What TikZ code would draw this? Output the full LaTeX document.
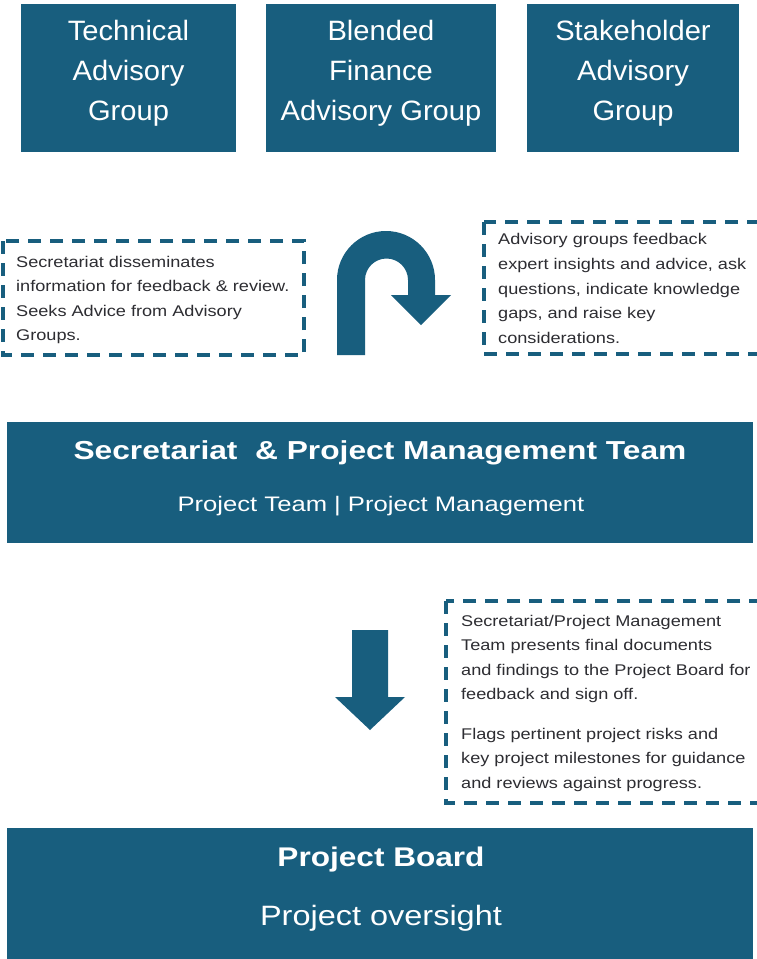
\documentclass[tikz,border=0pt]{standalone}
\usepackage{fontspec}
\setmainfont{Liberation Sans}
\definecolor{teal}{RGB}{24,94,126}
\definecolor{txt}{RGB}{45,45,50}
\tikzset{
  solidbox/.style={fill=teal, draw=none, inner sep=0pt},
  boxtext/.style={text=white, align=center, inner sep=0pt},
  dashbox/.style={draw=teal, line width=3.4pt, dash pattern=on 13pt off 9pt},
  notetext/.style={text=txt, align=left, anchor=north west, inner sep=0pt, font=\fontsize{15.5}{24.3}\selectfont\addfontfeature{FakeStretch=1.17}},
  toptext/.style={boxtext, font=\fontsize{28}{40}\selectfont\addfontfeature{FakeStretch=1.04}},
}
\begin{document}
\begin{tikzpicture}[x=1pt,y=1pt]
\useasboundingbox (0,0) rectangle (757,-959);
\fill[white] (0,0) rectangle (757,-959);
% top boxes
\node[solidbox, minimum width=215pt, minimum height=148pt] (tag) at (128.5,-78) {};
\node[solidbox, minimum width=230pt, minimum height=148pt] (bfag) at (381,-78) {};
\node[solidbox, minimum width=212pt, minimum height=148pt] (sag) at (633,-78) {};
\node[toptext] (tagt) at (128.5,-73) {Technical\\Advisory\\Group};
\node[toptext] (bfagt) at (381,-73) {Blended\\Finance\\Advisory Group};
\node[toptext] (sagt) at (633,-73) {Stakeholder\\Advisory\\Group};
% dashed note boxes
\draw[dashbox] (3,-241) rectangle (304,-355);
\node[notetext] (n1) at (16,-256) {Secretariat disseminates\\information for feedback \& review.\\Seeks Advice from Advisory\\Groups.};
\draw[dashbox] (484,-222) rectangle (765,-354);
\node[notetext, font=\fontsize{15.5}{24.8}\selectfont\addfontfeature{FakeStretch=1.17}] (n2) at (498,-233) {Advisory groups feedback\\expert insights and advice, ask\\questions, indicate knowledge\\gaps, and raise key\\considerations.};
\draw[dashbox] (446,-601) rectangle (765,-803);
\node[notetext] (n3) at (461,-615) {Secretariat/Project Management\\Team presents final documents\\and findings to the Project Board for\\feedback and sign off.};
\node[notetext] (n4) at (461,-728) {Flags pertinent project risks and\\key project milestones for guidance\\and reviews against progress.};
% U-turn arrow
\fill[teal] (337,-355) -- (337,-280) arc[start angle=180, end angle=0, radius=49pt]
  -- (435,-295) -- (451,-295) -- (421,-325) -- (391,-295) -- (408,-295) -- (408,-280)
  arc[start angle=0, end angle=180, radius=21.5pt] -- (365,-355) -- cycle;
% middle box
\node[solidbox, minimum width=746pt, minimum height=121pt] (spmt) at (380,-482.5) {};
\node[boxtext, font=\bfseries\fontsize{26}{30}\selectfont\addfontfeature{FakeStretch=1.22}] (spmtt) at (380,-453) {Secretariat\ \ \& Project Management Team};
\node[boxtext, font=\fontsize{21}{26}\selectfont\addfontfeature{FakeStretch=1.22}] (spmts) at (381,-506) {Project Team | Project Management};
% down arrow
\fill[teal] (352,-630) -- (388,-630) -- (388,-697) -- (405,-697) -- (370,-730) -- (335,-697) -- (352,-697) -- cycle;
% bottom box
\node[solidbox, minimum width=746pt, minimum height=134pt] (pb) at (380,-895) {};
\node[boxtext, font=\bfseries\fontsize{27}{30}\selectfont\addfontfeature{FakeStretch=1.17}] (pbt) at (381,-860) {Project Board};
\node[boxtext, font=\fontsize{28}{32}\selectfont\addfontfeature{FakeStretch=1.16}] (pbs) at (381,-918) {Project oversight};
\end{tikzpicture}
\end{document}
